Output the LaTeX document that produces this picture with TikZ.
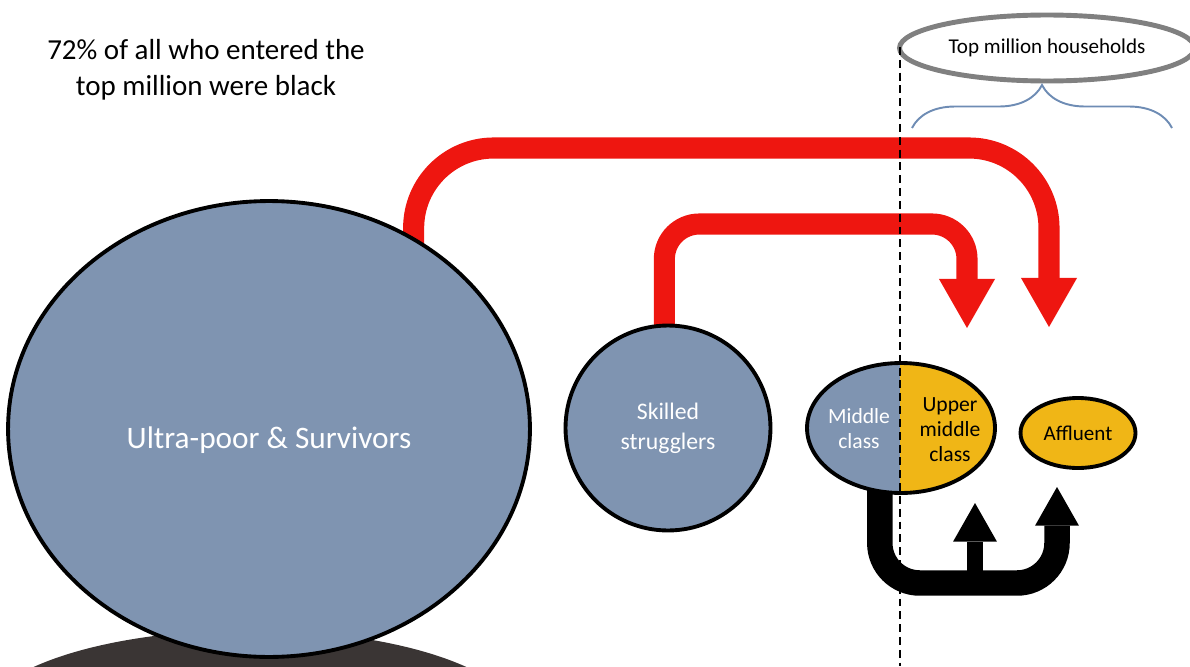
\documentclass[tikz,border=0pt]{standalone}
\usepackage{fontspec}
\setmainfont{Carlito}
\usepackage{tikz}
\usetikzlibrary{shapes.geometric, arrows.meta, decorations.pathreplacing}
\definecolor{slate}{RGB}{127,148,177}
\definecolor{gold}{RGB}{240,182,22}
\definecolor{darkbase}{RGB}{58,53,52}
\definecolor{topgray}{RGB}{128,128,128}
\definecolor{bracecol}{RGB}{110,140,180}
\definecolor{arrowred}{RGB}{238,22,16}
\pgfdeclarelayer{background}
\pgfsetlayers{background,main}
\tikzstyle{group} = [ellipse, draw=black, line width=2.2pt, fill=slate, text=white, align=center, inner sep=0pt]
\tikzstyle{redarrow} = [draw=arrowred, line width=12pt, shorten <=-8pt, -{Triangle[width=32pt, length=28pt, line width=0pt]}]
\tikzstyle{blackarrow} = [draw=black, -{Triangle[width=25pt, length=22pt, line width=0pt]}]

\begin{document}
\begin{tikzpicture}[x=0.02cm, y=-0.02cm]
        \useasboundingbox (0,0) rectangle (1190,666);
        \node[align=center, font=\fontsize{16.5}{20.4}\selectfont] (title) at (206,70) {72\% of all who entered the\\top million were black};
        \node[group, minimum width=10.44cm, minimum height=9.12cm, text height=26pt, text depth=4pt, font=\fontsize{17.8}{21}\selectfont] (ultra) at (269,429) {Ultra-poor \& Survivors};
        \node[group, minimum width=4.1cm, minimum height=4.1cm, font=\fontsize{13.5}{17}\selectfont] (skilled) at (668,428) {Skilled\\strugglers};
        \begin{scope}
        \clip (901,428) ellipse (1.88cm and 1.3cm);
        \fill[slate] (800,350) rectangle (900,510);
        \fill[gold] (900,350) rectangle (1010,510);
        \end{scope}
        \node[ellipse, draw=black, line width=2.2pt, minimum width=3.76cm, minimum height=2.6cm] (mid) at (901,428) {};
        \node[text=white, align=center, font=\fontsize{12.3}{14.2}\selectfont] (midlabel) at (859,429) {Middle\\class};
        \node[align=center, font=\fontsize{12.3}{14.2}\selectfont] (upper) at (950,430) {Upper\\middle\\class};
        \node[group, fill=gold, text=black, minimum width=2.3cm, minimum height=1.4cm, font=\fontsize{12}{14}\selectfont] (affluent) at (1078,433) {Affluent};
        \node[ellipse, draw=topgray, line width=2.8pt, minimum width=5.6cm, minimum height=1.32cm, font=\fontsize{12}{14}\selectfont] (top) at (1047,48) {Top million households};
        \coordinate (braceL) at (912,128);
        \coordinate (braceR) at (1172,128);
        \draw[bracecol, line width=1.1pt, decorate, decoration={brace, amplitude=0.86cm}] (braceL) -- (braceR);
        \begin{pgfonlayer}{background}
        \fill[darkbase] (250,722) ellipse (5.4cm and 1.84cm);
        \coordinate (bendA) at (1049,148);
        \coordinate (tipA) at (1049,327);
        \draw[redarrow, rounded corners=1.6cm] (ultra.53) |- (bendA) -- (tipA);
        \coordinate (bendB) at (967,224);
        \coordinate (tipB) at (967,328);
        \draw[redarrow, rounded corners=0.7cm] (skilled.92) |- (bendB) -- (tipB);
        \coordinate (bendC) at (1057,583);
        \coordinate (tipC) at (1057,487);
        \draw[blackarrow, line width=14.5pt, rounded corners=0.8cm, shorten <=-6pt] (mid.-108) |- (bendC) -- (tipC);
        \coordinate (forkD) at (975,583);
        \coordinate (tipD) at (975,503);
        \draw[blackarrow, line width=9.5pt] (forkD) -- (tipD);
        \end{pgfonlayer}
        \coordinate (dashTop) at (900,47);
        \coordinate (dashBot) at (900,666);
        \draw[line width=1.6pt, dash pattern=on 4.5pt off 2.8pt] (dashTop) -- (dashBot);
        % \draw[red] (0,0) rectangle (1190,666);
\end{tikzpicture}
\end{document}
